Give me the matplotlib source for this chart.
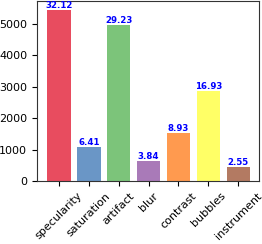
import matplotlib
matplotlib.use("Agg")
import matplotlib.pyplot as plt

categories = ["specularity", "saturation", "artifact", "blur", "contrast", "bubbles", "instrument"]
counts = [5460, 1090, 4970, 653, 1518, 2878, 434]
percents = ["32.12", "6.41", "29.23", "3.84", "8.93", "16.93", "2.55"]
colors = ["#e84c5f", "#6a96c6", "#7cc47a", "#a97ab8", "#ff9a4f", "#ffff66", "#b37a62"]

fig = plt.figure(figsize=(2.62, 2.44), dpi=100)
ax = fig.add_axes([0.141, 0.258, 0.848, 0.738])

x = range(len(categories))
bars = ax.bar(x, counts, width=0.78, color=colors)
for b, p in zip(bars, percents):
    ax.text(b.get_x() + b.get_width() / 2, b.get_height(), p,
            ha="center", va="bottom", color="blue", fontsize=6.2, fontweight="bold")

ax.set_ylim(0, max(counts) * 1.05)
ax.set_xlim(-0.74, 6.7)
ax.set_xticks(list(x))
ax.set_xticklabels(categories, rotation=45, fontsize=8)
ax.tick_params(axis="y", labelsize=8)
for s in ax.spines.values():
    s.set_color("#333333")

fig.savefig("out.png", dpi=100)
